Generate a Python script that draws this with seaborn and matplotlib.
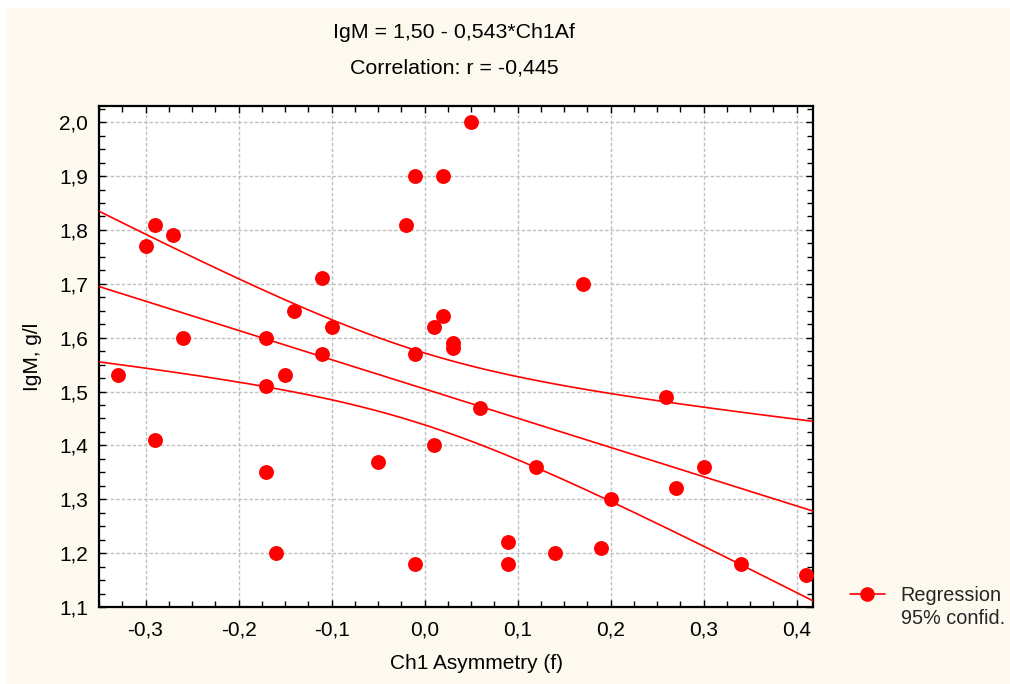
import numpy as np
import pandas as pd
import matplotlib
matplotlib.use("Agg")
import matplotlib.pyplot as plt
from matplotlib.ticker import MultipleLocator, FuncFormatter
from matplotlib.lines import Line2D
from matplotlib.patches import Rectangle
import seaborn as sns

# ---- data ----
ch1_asym = [-0.33, -0.30, -0.29, -0.29, -0.27, -0.26, -0.17, -0.17, -0.17, -0.16,
            -0.15, -0.14, -0.11, -0.11, -0.10, -0.05, -0.02, -0.01, -0.01, -0.01,
            0.01, 0.01, 0.02, 0.02, 0.03, 0.03, 0.05, 0.06, 0.09, 0.09,
            0.12, 0.14, 0.17, 0.19, 0.20, 0.26, 0.27, 0.30, 0.34, 0.41]
igm = [1.53, 1.77, 1.81, 1.41, 1.79, 1.60, 1.60, 1.51, 1.35, 1.20,
       1.53, 1.65, 1.71, 1.57, 1.62, 1.37, 1.81, 1.90, 1.57, 1.18,
       1.62, 1.40, 1.90, 1.64, 1.59, 1.58, 2.00, 1.47, 1.22, 1.18,
       1.36, 1.20, 1.70, 1.21, 1.30, 1.49, 1.32, 1.36, 1.18, 1.16]
title_lines = ["IgM = 1,50 - 0,543*Ch1Af", "Correlation: r = -0,445"]
x_label = "Ch1 Asymmetry (f)"
y_label = "IgM, g/l"
legend_labels = ["Regression", "95% confid."]

sns.set_theme(style="white")
plt.rcParams['font.family'] = ['Liberation Sans', 'DejaVu Sans']

df = pd.DataFrame({"x": ch1_asym, "y": igm})
RED = "#FF0000"
CREAM = "#FEF9EE"
FS = 15

fig = plt.figure(figsize=(10.10, 6.84), dpi=100, facecolor="white")
fig.patches.append(Rectangle((7 / 1010, 0), 1, (684 - 8) / 684, transform=fig.transFigure,
                             facecolor=CREAM, edgecolor="none", zorder=-10))
ax = fig.add_axes([99 / 1010, (684 - 607) / 684, (813 - 99) / 1010, (607 - 106) / 684])
ax.set_facecolor("white")

xmin, xmax = -0.35, 0.4175
ymin, ymax = 1.1, 2.03

# regression + 95% confidence band computed from the data
x = np.asarray(ch1_asym)
y = np.asarray(igm)
n = len(x)
b, a = np.polyfit(x, y, 1)
resid = y - (a + b * x)
s = np.sqrt(np.sum(resid ** 2) / (n - 2))
t = 2.024
xs = np.linspace(xmin, xmax, 200)
fit = a + b * xs
se = s * np.sqrt(1 / n + (xs - x.mean()) ** 2 / np.sum((x - x.mean()) ** 2))
lines = pd.DataFrame({"x": np.concatenate([xs, xs, xs]),
                      "y": np.concatenate([fit, fit + t * se, fit - t * se]),
                      "k": ["fit"] * len(xs) + ["up"] * len(xs) + ["lo"] * len(xs)})
sns.lineplot(data=lines, x="x", y="y", units="k", estimator=None, color=RED,
             linewidth=1.2, ax=ax, zorder=3)
sns.scatterplot(data=df, x="x", y="y", color=RED, s=115, linewidth=0, ax=ax, zorder=4)

ax.set_xlim(xmin, xmax)
ax.set_ylim(ymin, ymax)
ax.xaxis.set_major_locator(MultipleLocator(0.1))
ax.xaxis.set_minor_locator(MultipleLocator(0.025))
ax.yaxis.set_major_locator(MultipleLocator(0.1))
ax.yaxis.set_minor_locator(MultipleLocator(0.025))
fmt = FuncFormatter(lambda v, p: f"{v:.1f}".replace(".", ",").replace("-0,0", "0,0"))
ax.xaxis.set_major_formatter(fmt)
ax.yaxis.set_major_formatter(fmt)
ax.tick_params(which="both", direction="in", top=True, right=True, bottom=True, left=True,
               colors="black", labelsize=FS, width=1.0)
ax.tick_params(which="major", length=5)
ax.tick_params(which="minor", length=4)
ax.tick_params(axis="x", which="major", pad=10)
ax.tick_params(axis="y", which="major", pad=8)
ax.grid(True, which="major", color="#c0c0c0", linestyle=(0, (2.5, 1.5)), linewidth=1.0)
for sp in ax.spines.values():
    sp.set_color("black")
    sp.set_linewidth(1.6)

ax.set_xlabel(x_label, fontsize=FS, color="black")
ax.set_ylabel(y_label, fontsize=FS, color="black")
ax.xaxis.set_label_coords((477 - 99) / 714, (607 - 654) / 501)
ax.yaxis.set_label_coords((42 - 99) / 714, 0.5)

fig.text(454 / 1010, 1 - 33 / 684, title_lines[0], ha="center", va="center", fontsize=15.4, color="black")
fig.text(454 / 1010, 1 - 68 / 684, title_lines[1], ha="center", va="center", fontsize=15.4, color="black")

handle = Line2D([], [], color=RED, marker="o", markersize=10.5, linewidth=1.2,
                markeredgewidth=0)
blank = Line2D([], [], color="none", marker=None, linewidth=0)
fig.legend([handle, blank], legend_labels, loc="center left",
           bbox_to_anchor=(850 / 1010, 1 - 607 / 684), frameon=False, borderpad=0,
           borderaxespad=0, fontsize=14.3, handlelength=1.75, handletextpad=0.8,
           labelspacing=0.2)

fig.savefig("out.png", dpi=100, facecolor=fig.get_facecolor())
